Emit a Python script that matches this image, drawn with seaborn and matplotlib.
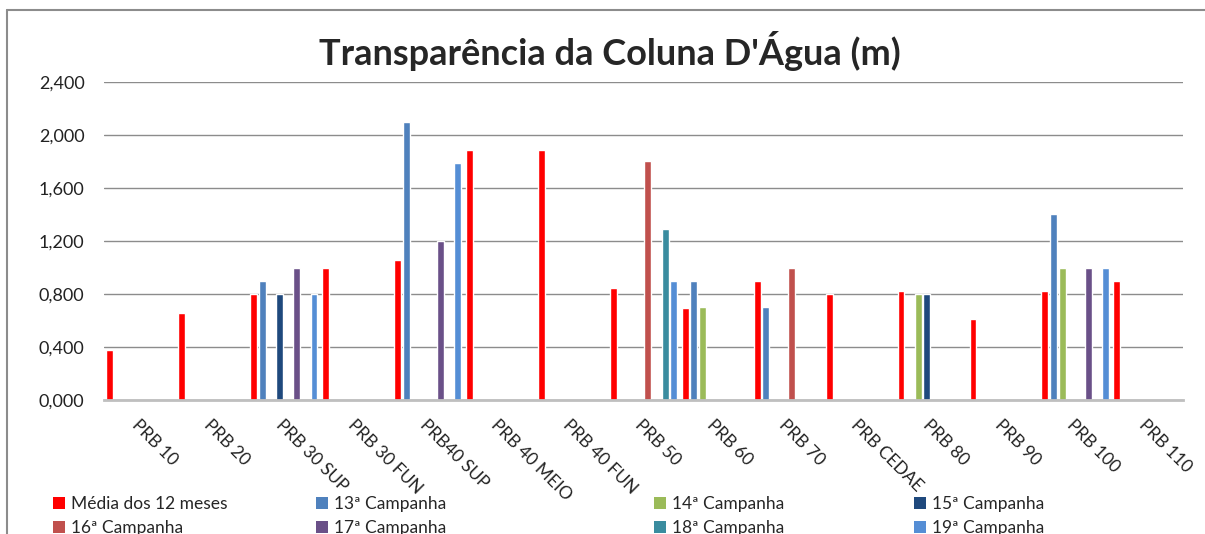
import matplotlib
matplotlib.use('Agg')
import matplotlib.pyplot as plt
from matplotlib.patches import Patch
import seaborn as sns
import pandas as pd
import numpy as np

stations = ['PRB 10', 'PRB 20', 'PRB 30 SUP', 'PRB 30 FUN', 'PRB40 SUP', 'PRB 40 MEIO',
            'PRB 40 FUN', 'PRB 50', 'PRB 60', 'PRB 70', 'PRB CEDAE', 'PRB 80',
            'PRB 90', 'PRB 100', 'PRB 110']

series = ['Média dos 12 meses', '13ª Campanha', '14ª Campanha', '15ª Campanha',
          '16ª Campanha', '17ª Campanha', '18ª Campanha', '19ª Campanha']

nan = np.nan
media = [0.375, 0.657, 0.80, 1.00, 1.06, 1.89, 1.89, 0.845, 0.695, 0.90, 0.80, 0.82, 0.61, 0.82, 0.90]
c13 = [nan, nan, 0.90, nan, 2.10, nan, nan, nan, 0.90, 0.70, nan, nan, nan, 1.40, nan]
c14 = [nan, nan, nan, nan, nan, nan, nan, nan, 0.70, nan, nan, 0.80, nan, 1.00, nan]
c15 = [nan, nan, 0.80, nan, nan, nan, nan, nan, nan, nan, nan, 0.80, nan, nan, nan]
c16 = [nan, nan, nan, nan, nan, nan, nan, 1.80, nan, 1.00, nan, nan, nan, nan, nan]
c17 = [nan, nan, 1.00, nan, 1.20, nan, nan, nan, nan, nan, nan, nan, nan, 1.00, nan]
c18 = [nan, nan, nan, nan, nan, nan, nan, 1.29, nan, nan, nan, nan, nan, nan, nan]
c19 = [nan, nan, 0.80, nan, 1.79, nan, nan, 0.90, nan, nan, nan, nan, nan, 1.00, nan]

colors = ['#FF0000', '#4F81BD', '#9BBB59', '#1F497D',
          '#C0504D', '#6A5088', '#3A8C9F', '#558ED5']

yticks = [0, 0.4, 0.8, 1.2, 1.6, 2.0, 2.4]

# long form table for seaborn
values = [media, c13, c14, c15, c16, c17, c18, c19]
rows = []
for name, vals in zip(series, values):
    for st, v in zip(stations, vals):
        rows.append({'station': st, 'serie': name, 'valor': v})
df = pd.DataFrame(rows)

sns.set_style('white')
plt.rcParams['font.family'] = ['Lato', 'DejaVu Sans']

fig = plt.figure(figsize=(12.05, 5.34), dpi=100)
ax = fig.add_axes([104 / 1205, 134 / 534, 1079 / 1205, 318 / 534])

palette = dict(zip(series, colors))
sns.barplot(data=df, x='station', y='valor', hue='serie', order=stations,
            hue_order=series, palette=palette, saturation=1, width=0.96,
            gap=0.2, ax=ax, legend=False, errorbar=None)

ax.set_xlim(-0.5, len(stations) - 0.5)
ax.set_ylim(0, 2.4)
ax.set_yticks(yticks)
ax.set_yticklabels([f'{v:.3f}'.replace('.', ',') for v in yticks])
ax.yaxis.grid(True, color='#8C8C8C', linewidth=1)
ax.set_axisbelow(True)
ax.set_xlabel('')
ax.set_ylabel('')
for s in ['left', 'right', 'top']:
    ax.spines[s].set_visible(False)
ax.spines['bottom'].set_color('#BFBFBF')
ax.spines['bottom'].set_linewidth(2)
ax.tick_params(axis='y', length=0, pad=14, labelsize=13, labelcolor='#222222')
ax.tick_params(axis='x', length=0, pad=12, labelsize=12.5, labelcolor='#222222')
ax.set_xticks(range(len(stations)))
ax.set_xticklabels(stations, rotation=-45, ha='left', va='top', rotation_mode='anchor')

fig.text(0.506, 0.905, "Transparência da Coluna D'Água (m)", ha='center', va='center',
         fontsize=26, fontweight='bold')

# outer chart border (left and top edges)
fig.add_artist(plt.Line2D([7 / 1205, 7 / 1205], [0, 1 - 10 / 534], color='#8C8C8C', linewidth=1.5))
fig.add_artist(plt.Line2D([7 / 1205, 1], [1 - 10 / 534, 1 - 10 / 534], color='#8C8C8C', linewidth=1.5))

# legend: two rows, four columns placed like the original
col_x = [58, 321, 659, 919]
for i, x in enumerate(col_x):
    idx = [i, i + 4]
    handles = [Patch(facecolor=colors[k], edgecolor='none') for k in idx]
    labels = [series[k] for k in idx]
    fig.legend(handles, labels, loc='upper left', bbox_to_anchor=(x / 1205 - 0.0045, 1 - 496 / 534),
               frameon=False, fontsize=12.5, handlelength=0.7, handleheight=0.7,
               handletextpad=0.35, labelspacing=0.45, borderpad=0, borderaxespad=0)

fig.savefig('out.png', dpi=100)
